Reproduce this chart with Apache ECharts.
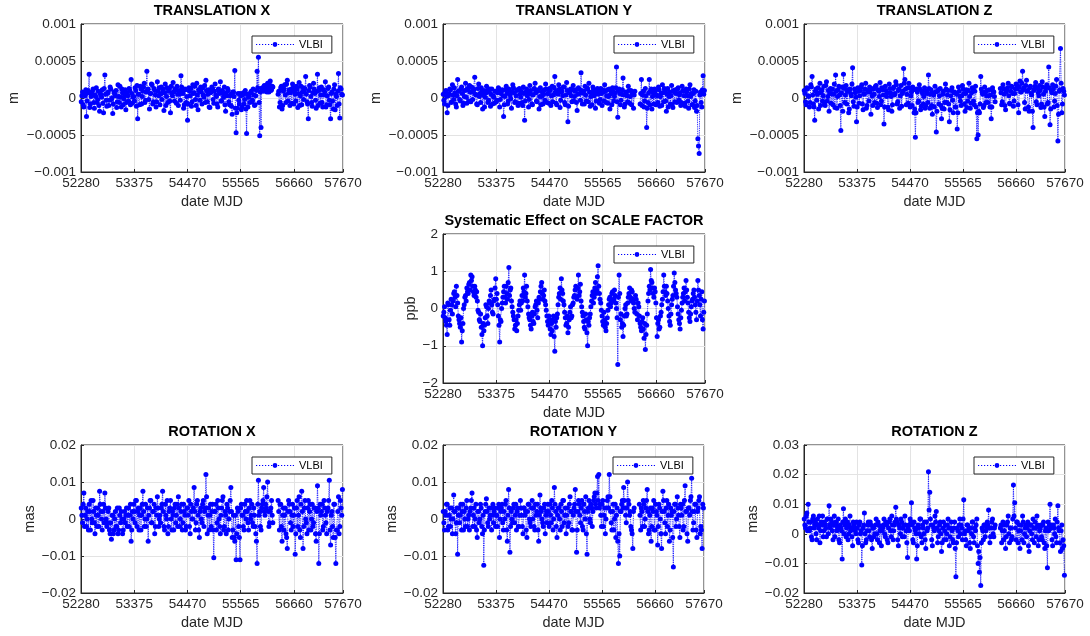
<!DOCTYPE html>
<html><head><meta charset="utf-8">
<script src="https://cdn.jsdelivr.net/npm/echarts@6/dist/echarts.min.js"></script>
<style>html,body{margin:0;padding:0;background:#fff}#c{width:1090px;height:636px}</style>
</head><body><div id="c"></div>
<script>
// Session dates (MJD): two interleaved session sets (A and B)
const MJD_START_A = 52285, MJD_START_B = 52298, MJD_STEP = 27;
const X_TICKS = [52280, 53375, 54470, 55565, 56660, 57670];

// Translation X, units of 1e-5 m
const TX = [
-5, 8, -12, 3, -25, 10, 32, -8, 5, 12, -14, 2, -6, 9, -18, 4, 11, -20, 31, -3,
6, -10, 15, -2, -21, 8, 3, -13, 18, -6, 1, 12, -9, 4, -16, 7, -4, 10, 25, -7,
2, 14, -11, -28, 5, 16, -8, 9, 20, -3, 36, 12, -15, 6, 18, -5, 10, -12, 22, 3,
-9, 15, 8, -17, 19, 2, -6, 13, -20, 7, 21, -4, 11, 16, -10, 5, 30, 9, -14, 12,
-6, -30, 14, 3, -11, 18, 7, -2, 20, -16, 9, 15, -8, 4, 17, 24, -5, 11, -13, 8,
13, -7, 19, 2, -12, 9, 22, -4, 6, 15, -18, 3, 10, -9, 5, -22, 8, 37, -47, -14,
-3, 6, -16, 4, -8, 10, -48, -12, 2, 7, -5, 12, -10, 3, 36, 55, -51, -40, 14, 9,
16, 10, 20, 8, 23, 11, 15, null, null, null, 5, -12, 14, -15, 9, 18, -6, 24, 7, -10,
12, 19, -8, 5, 16, -13, 21, 3, -9, 14, 8, 29, -5, -28, 17, 2, -11, 20, 6, -14,
32, 10, -7, 15, -12, 4, 22, -9, 13, -3, -28, 8, -15, 18, 5, -10, 33, -27, 12, 4];
const TX_B = [
3, -9, 6, 11, -4, 7, -13, 2, 9, -6, 4, 14, -2, -10, 6, 1, -7, 13, 5, -11,
8, -3, 12, 0, -8, 5, 10, -5, 2, 16, -12, 7, -1, 11, -6, 3, 13, -9, 6, 1,
-4, 10, 17, 5, -9, 12, 2, 15, -6, 8, 11, -2, 6, 19, -8, 13, 4, -5, 9, 14,
5, -2, 12, 7, -10, 14, 9, -4, 16, 3, 8, 12, -7, 5, 10, -3, 15, 6, -9, 11,
2, -8, 9, 13, -5, 6, 16, -10, 4, 11, -3, 8, 14, 1, -6, 10, 5, -12, 7, 15,
-2, 9, 4, -8, 12, 6, -4, 10, 1, -9, 7, 13, -5, 3, -11, 8, 2, -14, -20, 6,
-8, 3, -12, 7, -2, -15, 5, 1, -6, 9, -3, 4, -9, 10, 14, -6, 8, 13, 11, 17,
12, 8, 14, 18, 10, 16, null, null, null, null, 9, -6, 16, -10, 12, 4, 19, -4, 11, 7,
-7, 14, 9, -4, 12, 6, -10, 16, 8, -2, 13, 5, -8, 10, 15, -6, 7, 12, -3, 9,
-10, 14, 4, -6, 11, 8, -12, 3, 15, -9, 6, -4, 12, -16, 2, 9, -8, 14, 5];

// Translation Y, units of 1e-5 m
const TY = [
5, -8, 10, -20, 3, 12, -6, 18, -2, 7, -12, 25, 9, -4, 15, -10, 2, 20, -7, 11,
17, -5, 8, 13, 28, 4, -9, 19, 6, 14, -15, 10, 1, 16, -6, 8, -11, 12, 3, -7,
9, -3, 14, -12, 6, 11, -25, 2, 16, -8, 12, 4, -14, 18, 7, -5, 10, -10, 13, 1,
-6, 15, -30, 8, 3, -12, 17, 5, -9, 12, 20, -4, 9, -15, 14, 2, -8, 11, 19, -6,
6, 13, -10, 16, 4, 29, -7, 10, 18, -13, 8, 3, 15, -9, 21, -32, 7, 12, -5, 17,
2, 11, -17, 14, 6, 34, -8, 9, 16, -4, 12, 20, -11, 7, 15, 3, -14, 10, 5, -7,
13, -10, 8, 18, -6, 11, 2, -15, 9, 14, -4, 7, 42, -26, 12, -9, 5, 27, -12, 8,
3, 16, -7, 10, 5, -14, 9, null, null, null, -8, 25, 4, -12, 13, -40, -6, 25, 10, -15,
7, 12, -9, 3, 15, -11, 6, 18, -5, 9, -18, 13, 2, -8, 17, -13, 8, 11, -6, 14,
4, -10, 16, 9, -7, 12, 3, -14, 18, 6, -9, 11, -4, -18, -55, -75, 8, -12, 30, 10];
const TY_B = [
-3, 8, 2, -10, 6, 11, -5, 4, 14, -8, 3, 9, -2, 12, 6, -7, 10, 1, 13, -4,
8, 15, -2, 11, 5, -8, 13, 2, -6, 9, 4, -12, 7, 10, -3, 12, 5, -8, 1, 9,
-5, 7, 12, -2, 9, 3, -9, 11, 6, -4, 10, -1, 8, 14, -6, 3, 11, -7, 5, 9,
-10, 6, -4, 12, 8, -2, 10, -8, 4, 13, 7, -5, 11, 2, -9, 8, 5, -3, 12, 6,
-7, 10, 3, -5, 14, 8, -9, 5, 12, -3, 9, 15, -6, 4, 10, -11, 7, 3, 11, -4,
9, -6, 5, 12, -3, 10, 7, -8, 4, 14, -5, 8, 2, -9, 11, 6, -4, 13, 8, -2,
6, 11, -4, 9, 3, -7, 12, 5, -9, 8, 2, 14, -5, 10, 6, -3, 11, 4, -8, 7,
-5, 10, 2, -9, 8, 4, null, null, null, null, 6, -10, 9, -4, 3, -14, 7, -9, 12, 2,
-8, 9, 4, -6, 11, 2, -10, 7, 13, -4, 5, -12, 8, 3, -9, 10, -5, 6, 12, -3,
7, -6, 10, 3, -11, 8, -4, 12, 2, -9, 6, -13, 9, -10, -65, 4, -6, 11, 5];

// Translation Z, units of 1e-5 m
const TZ = [
10, -5, 14, 3, -12, 18, 29, -8, -30, 12, 5, -15, 20, 8, -4, 16, -10, 22, 2, -18,
13, 6, -9, 19, 31, -14, 11, 4, -44, 15, 32, -6, 17, 9, -20, 12, 3, 41, -11, 7,
-32, 14, -7, 10, 18, -16, 5, 20, -10, 8, 15, -22, 3, 12, -6, 17, -13, 9, 21, -4,
11, -35, 16, 2, -12, 19, 7, -18, 13, 4, 22, -8, 10, -14, 17, 6, 40, 25, -9, 14,
20, -12, 8, 15, -20, -53, 12, -6, 18, -16, 9, -8, 14, -10, 6, 31, -14, 11, -22, 4,
16, -46, 9, -8, 13, -28, 5, -15, 19, -6, 10, -32, 3, 14, -20, 8, -12, -42, 15, 2,
-10, 17, 6, -18, 11, -4, 20, -14, 7, 12, -9, 16, -55, -50, -20, 29, 8, -13, 15, -6,
10, 3, -12, -28, 14, 8, -5, null, null, null, 13, -9, 18, 5, -16, 11, 20, -7, 9, 15,
-11, 6, 19, 12, -20, 23, 8, 36, 14, -15, 24, 10, -18, 16, 4, -40, 12, 21, -9, 7,
17, -13, 22, 5, -25, 14, -8, 42, -36, 10, 18, -12, 6, 25, -58, 9, 67, -20, 13, 4];
const TZ_B = [
6, -9, 12, 2, -6, 15, 4, -12, 9, -3, 14, 7, -10, 11, 3, -8, 17, -4, 10, 6,
-7, 12, 5, -13, 9, 2, 16, -10, 7, -18, 13, 4, -8, 11, -15, 6, 19, -5, 12, 1,
-12, 9, 3, 15, -8, 6, 12, -14, 10, -4, 8, 13, -10, 5, 16, -7, 11, 2, -9, 14,
4, -12, 10, 7, -16, 13, 2, -9, 15, 6, 18, -5, 12, 3, -11, 9, 20, 12, 5, -7,
14, 3, -10, 11, -15, -20, 8, -4, 12, -11, 6, 2, -14, 9, -6, 13, 5, -10, 7, -12,
8, -18, 11, 3, -10, -14, 9, -6, 12, 4, -8, -16, 10, -3, 7, -12, 5, -20, 9, -4,
3, 12, -8, 6, -13, 10, 2, -7, 14, -4, 9, -12, -20, -18, -8, 12, 5, -10, 8, 3,
-6, 11, 4, -12, 9, 2, null, null, null, null, 7, -5, 12, -10, 8, 14, 3, -8, 16, 6,
-4, 12, 18, -9, 15, 8, 20, 11, -6, 17, 9, -12, 14, 6, -18, 10, 16, -5, 13, 3,
10, -8, 15, -12, 9, 18, -6, 14, -15, 7, 12, -4, 16, -10, -22, 11, 20, -8, 9];

// Scale factor, units of 0.01 ppb
const SC = [
-20, 5, -35, -70, 10, -45, 25, -15, 40, 30, 60, 15, -30, -50, -90, -40, 10, 35, 55, 40,
70, 90, 85, 45, 60, 30, 20, -10, -35, -50, -100, -60, -25, 5, -40, 20, 35, 10, -15, 25,
80, 40, -20, -90, -35, 15, 45, 30, 60, 25, 110, 50, 20, -10, -30, -45, -60, -20, 10, -5,
35, 55, 90, 40, 20, -15, -30, -55, -10, -40, 5, 20, -25, 30, 45, 70, 25, 50, 10, -20,
-45, -30, -70, -60, -20, -115, -50, -15, 30, 55, 80, 40, 10, -25, -40, -65, -30, 5, -20, 15,
35, 60, 25, 90, 45, 20, -10, -35, -55, -30, -100, -45, -15, 20, 45, 30, 70, 50, 115, 40,
15, -20, -45, -30, -60, -25, 10, 30, 15, 45, 25, 35, 0, -150, 90, -30, -50, -75, -20, 10,
-15, 30, 55, 20, 45, 15, -10, 25, -30, 5, -40, -60, -25, -80, -110, -45, 20, 60, 105, 70,
40, 55, 15, -75, -30, -50, -10, 25, 90, 45, 60, 20, -20, -45, 10, 35, 95, 50, 30, -15,
-40, -25, 15, 40, 20, 75, 30, -10, -35, 5, 25, 50, 10, -30, 75, 35, -20, 45, -55, 20];
const SC_B = [
-10, -25, -45, 15, -30, -5, 10, 20, 45, 5, 35, -20, -40, -25, -60, 0, 30, 20, 45, 65,
50, 75, 60, 35, 50, 45, -5, -30, -15, -70, -40, -45, 10, -20, 0, 15, 50, -10, 20, 55,
25, 10, -45, -30, 0, 30, 60, 15, 40, 70, 35, 55, 5, -20, -55, -30, -40, -5, 20, 15,
20, 45, 30, 60, 5, -25, -45, -20, -35, -15, 10, -5, 15, 25, 60, 40, 35, 20, -5, -35,
-20, -55, -40, -30, -75, -35, -25, 10, 40, 25, 50, 20, -10, -45, -20, -50, -10, -25, 10, 30,
50, 30, 55, 35, 65, 5, -20, -50, -15, -65, -35, -25, 5, 35, 15, 55, 40, 85, 60, 25,
-5, -35, -10, -50, -40, -5, 25, 5, 40, 20, 50, 15, -25, 30, 40, -15, -40, -45, 0, -20,
15, 40, 30, 50, 25, 0, 35, -15, 15, -20, -50, -35, -55, -40, -70, -15, 40, 50, 75, 55,
30, 45, -25, -40, -55, -20, 10, 45, 60, 35, 40, 0, -35, -15, 25, 60, 70, 40, 5, -30,
-55, -5, 30, 55, 45, 50, 15, -25, -15, 20, 40, 30, -10, 20, 50, 10, 25, -30, -10];

// Rotation X, units of 0.001 mas
const RX = [
3, -1, 7, 1, -2, 2, 4, -3, 0, 5, -1, 3, -2, 1, 7.5, 2, -3, 4, 7, 0,
-1, 3, -4, -5.5, 1, -3, 2, -2, -4, 3, -1, 0, -3, 2, 1, -2, 3, 1, -6, 2,
4, -1, 5, 2, -3, 3, 1, 7.5, -2, 4, 0, -6, 3, 5, -1, 2, -4, 3, 6, -2,
1, 3, 7.5, -2, 4, 0, -4, 2, 5, -3, 1, 3, -1, 4, 6, -2, 2, -3, 4, 1,
-2, 3, 5, -4, 2, 0, 8.5, -3, 4, 1, -5, 3, -1, 5, 2, 12, -4, 3, 1, -2,
4, -10.5, 2, -3, 5, 0, -4, 3, 6, -2, 1, 4, -3, 2, 8.5, -5, 1, -6, -11, 3,
-2, -11, 4, 1, -3, 2, 5, -1, 3, 0, 4, -2, 1, -4, -12, 10.5, 2, -3, 4, 8.5,
1, 3, 10, -2, 2, 5, -1, null, null, null, 5, -3, 4, -6, 3, 1, -4, -8, 5, 2,
-3, 4, 1, -9.5, 3, -2, 6, -5, 7.5, -8, 3, 0, -4, 5, 2, -3, 4, -1, 3, -6,
9, -12, 4, 2, -3, 5, 1, -4, 3, 10.5, -7, 2, -5, 4, -12, -3, 6, -2, 3, 8];
const RX_B = [
1, 4, -2, 3, 0, -3, 2, 5, -1, 2, -4, 1, 3, -2, 4, 0, 2, -1, 3, -2,
2, -3, -1, 1, -4, 0, -2, 3, -3, 1, 2, -4, 0, -1, 3, 1, -2, 4, -3, 0,
2, 5, -2, 3, 1, -3, 4, 2, 0, -2, 3, 1, 5, -1, 2, 4, -2, 1, 3, 0,
-1, 4, 2, -3, 1, 5, -2, 3, 0, 2, -3, 4, 1, -2, 3, 0, 4, -1, 2, -3,
3, 1, -2, 4, 0, 3, 2, -1, 5, -3, 2, 0, 4, -2, 3, 6, 1, -3, 4, 2,
-3, 2, 4, -1, 3, -2, 1, 5, -3, 2, -4, 3, 0, 5, 2, -3, -5, 1, -4, 2,
-5, 3, 1, -2, 4, 0, 2, -3, 5, 1, -1, 3, -2, -6, 4, 1, -2, 3, 5, 2,
4, 6, 2, -1, 3, 1, null, null, null, null, 2, 4, -2, 1, -3, 3, -5, 2, 4, -1,
1, -2, 3, -4, 5, 1, -3, 4, 2, -2, 5, -1, 3, -3, 4, 0, -2, 3, -4, 2,
3, -4, 1, 4, -2, 3, -1, 2, 5, -3, 1, -2, 4, -5, -3, 2, -4, 5, 1];

// Rotation Y, units of 0.001 mas
const RY = [
2, -3, 1, 4, -2, 3, 0, -4, 6.5, 2, -1, -9.5, 3, 1, -3, 4, 2, -2, 5, 0,
-3, 3, 7, 1, -2, 4, -5, 2, 0, 3, -4, -12.5, 2, 5.5, -1, 3, 1, -3, 4, 2,
-2, 1, 3, -5, 2, 4, -3, 0, 5, -6, 8, -9, 2, -1, 4, 1, -3, 3, -2, 5,
1, -4, 3, 2, -5, 4, 0, -2, 5, 3, -3, 1, 4, -6, 6.5, 2, -1, 3, -4, 2,
4, -2, 1, 5, -3, 8.5, 2, -5, 3, 0, 4, -2, 5, 1, -4, 3, -1, 6, 2, -3,
3, 8, -9, 2, 4, -1, 5, -3, 2, 6, -9.5, 3, 0, 4, -2, 5, 7, 3, 11.5, 12,
4, -2, 5, 1, -4, 3, 6, 12, 2, -3, 4, 0, -5, 3, -12, -10, 2, 5, 8.5, 3,
-1, 10, 4, 2, -3, -8, 3, null, null, null, 4, -3, 2, 5, -2, 3, 8, -4, 1, -6,
3, 5, -3, 2, -7, 4, 0, -8, 7.5, 2, -4, 5, 1, -6, 3, 2, -13, 4, -2, 6,
1, -5, 3, 4, -2, 9, 2, -6, 3, 5, 11, -3, 2, 4, -5, 3, 6, -2, -8, 3];
const RY_B = [
-1, 2, 4, -3, 1, -2, 3, 0, 2, -4, 3, 1, -1, 4, 2, -3, 0, 3, -2, 1,
2, 5, -2, 3, 0, -3, 2, -1, 4, -2, 1, -3, 4, 2, -2, 0, 3, 1, -1, 3,
1, -2, 4, 0, 3, -1, 2, 4, -3, 1, 3, -2, 0, 3, -1, 4, 2, -2, 1, 3,
-2, 3, 1, -3, 2, 4, -1, 3, 0, -2, 4, 2, -3, 1, 3, 0, -2, 4, 1, -1,
2, 4, -1, 3, 0, 4, -2, 1, 3, -3, 2, 5, -1, 3, 1, -2, 4, 2, -3, 1,
4, 2, -3, 5, 1, 3, -2, 4, 0, -4, 2, 5, -1, 3, 2, 6, 4, 7, 5, 3,
1, 4, -2, 3, 0, 5, 3, 6, -1, 2, -3, 4, 1, -6, -4, 2, 4, 3, 5, 1,
3, 5, 1, -2, -4, 2, null, null, null, null, 1, 3, -2, 4, 0, 5, 2, -3, 3, -2,
2, -3, 4, 1, -2, 3, -4, 2, 5, -1, 3, -2, 4, -3, 1, -5, 2, 4, 0, 3,
-2, 4, 1, -3, 5, 2, -4, 3, 1, 6, 2, -1, 4, -3, 2, 5, -4, -3, 4];

// Rotation Z, units of 0.001 mas
const RZ = [
5, 2, 7, 10, 1, 4, -2, 6, 3, 0, 5, 2, -3, 4, 6, 1, 3, -1, 5, 9.5,
2, 4, -2, 6, 3, 1, 5, -3, 2, -8.5, 8.5, 3, -1, 4, 0, 6, 2, -4, 3, 1,
4, -2, 3, 0, -10.5, 2, 7, -3, 1, 4, -1, 3, -5, 2, 0, 5, -2, 3, 1, -4,
2, 5, -1, 3, -3, 4, 1, 6, -2, 3, 9, 4, -4, 2, 5, -1, 3, 6, 1, -8,
3, 5, 10.5, -2, 4, 1, -8.5, 3, 0, 5, -3, 2, 4, -5, 1, 21, 14, 3, -4, 2,
6, 7.5, -3, 1, 4, -6, 2, -2, 3, 0, 5, -4, 2, 1, -3, 4, -14.5, 2, -1, 5,
3, -2, 11.5, 1, -4, 3, 2, -5, 0, 4, -3, 1, 5, -10, -13, -17.5, 2, -2, 3, 1,
4, 8, -3, 2, 5, -1, 3, null, null, null, 2, -3, 4, 1, -5, 3, 6, -3, 2, -1,
16.5, 10.5, -2, 4, 1, -5, 3, 6, -3, 2, -1, 4, -6, 3, 0, 5, -3, 2, 6, -4,
1, 3, -2, 4, -5, 2, -11.5, 1, 10, 3, -4, 2, 5, -3, 9.5, 1, -6, 3, -2, -14];
const RZ_B = [
3, 6, 1, 4, 2, -1, 5, 2, 4, -2, 3, 6, 1, 3, -1, 4, 2, 5, 0, 3,
5, 1, 3, -1, 4, 2, -2, 3, 1, 4, 0, 5, 2, -2, 3, 1, -1, 4, 2, 0,
2, -3, 4, 1, -4, 3, 0, -2, 3, 1, 4, -2, 2, -1, 3, 0, 4, -3, 2, 1,
3, 0, 4, -2, 2, 5, -1, 3, 1, 4, 5, -2, 3, 0, 4, 2, -1, 3, -3, 2,
1, 4, 3, -3, 2, 0, -4, 2, 5, -1, 3, 0, -2, 4, 2, 8, 5, -2, 3, 1,
4, 2, -1, 3, 0, -3, 4, 1, -2, 3, 2, -1, 4, -2, 2, -5, -3, 1, 3, 0,
2, 5, 0, -2, 3, 1, -3, 2, 4, -1, 2, 3, -4, -6, -8, -3, 1, 3, -1, 2,
3, 2, -1, 4, 0, 2, null, null, null, null, 3, 1, -2, 3, -1, 4, 0, 2, -2, 5,
6, 2, 4, -3, 3, 1, -2, 4, 0, 3, 2, -4, 1, 3, -2, 2, 4, -1, 3, -2,
2, -1, 3, -3, 1, -4, 4, 3, 2, -2, 3, 0, -1, 4, 2, -3, 1, -5, -4];

const PANELS = [
  {title:'TRANSLATION X', a:TX, b:TX_B, unit:1e-5, min:-0.001, max:0.001, step:0.0005, yname:'m',   gap:60, g:[81,24,262,148]},
  {title:'TRANSLATION Y', a:TY, b:TY_B, unit:1e-5, min:-0.001, max:0.001, step:0.0005, yname:'m',   gap:60, g:[443,24,262,148]},
  {title:'TRANSLATION Z', a:TZ, b:TZ_B, unit:1e-5, min:-0.001, max:0.001, step:0.0005, yname:'m',   gap:60, g:[804,24,261,148]},
  {title:'Systematic Effect on SCALE FACTOR', a:SC, b:SC_B, unit:0.01, min:-2, max:2, step:1, yname:'ppb', gap:25, g:[443,234,262,149]},
  {title:'ROTATION X', a:RX, b:RX_B, unit:0.001, min:-0.02, max:0.02, step:0.01, yname:'mas', gap:43, g:[81,445,262,148]},
  {title:'ROTATION Y', a:RY, b:RY_B, unit:0.001, min:-0.02, max:0.02, step:0.01, yname:'mas', gap:43, g:[443,445,261,148]},
  {title:'ROTATION Z', a:RZ, b:RZ_B, unit:0.001, min:-0.02, max:0.03, step:0.01, yname:'mas', gap:43, g:[804,445,261,148]}
];

const FONT = "'Liberation Sans', Arial, sans-serif";
const AX = '#262626', GRIDC = '#e3e3e3', BLUE = '#0000ff';
const fmt = v => String(+(+v).toFixed(6)).replace('-', '\u2212');

// Legend icon: dotted line with a dot marker in the middle (38 x 6 box)
const LEGEND_ICON = 'path://' +
  'M0 2.6h1.2v1.2h-1.2z M3 2.6h1.2v1.2h-1.2z M6 2.6h1.2v1.2h-1.2z M9 2.6h1.2v1.2h-1.2z M12 2.6h1.2v1.2h-1.2z M15 2.6h1.2v1.2h-1.2z ' +
  'M22 2.6h1.2v1.2h-1.2z M25 2.6h1.2v1.2h-1.2z M28 2.6h1.2v1.2h-1.2z M31 2.6h1.2v1.2h-1.2z M34 2.6h1.2v1.2h-1.2z M36.8 2.6h1.2v1.2h-1.2z ' +
  'M16.6 3.2a2.4 2.4 0 1 0 4.8 0a2.4 2.4 0 1 0 -4.8 0z M0 0.8h0.01v0.01h-0.01z M37.99 5.6h0.01v0.01h-0.01z';

function buildPoints(a, b, unit) {
  const out = [];
  const val = v => (v === null ? '-' : v * unit);
  for (let i = 0; i < a.length; i++) {
    out.push([MJD_START_A + MJD_STEP * i, val(a[i])]);
    if (i < b.length) out.push([MJD_START_B + MJD_STEP * i, val(b[i])]);
  }
  return out;
}

const option = {animation:false, backgroundColor:'#fff', title:[], grid:[], xAxis:[], yAxis:[], legend:[], series:[]};
PANELS.forEach((p, k) => {
  const [L, T, W, H] = p.g;
  option.grid.push({left:L, top:T, width:W, height:H, show:true, borderColor:AX, borderWidth:1, containLabel:false});
  option.title.push({text:p.title, left:L + W/2, top:T - 21, textAlign:'center', padding:0,
    textStyle:{fontFamily:FONT, fontWeight:'bold', fontSize:14.5, color:'#000'}});
  option.xAxis.push({type:'value', gridIndex:k, min:X_TICKS[0], max:X_TICKS[X_TICKS.length-1], interval:X_TICKS[1]-X_TICKS[0],
    name:'date MJD', nameLocation:'middle', nameGap:22, nameTextStyle:{fontFamily:FONT, fontSize:14.5, color:AX},
    axisLine:{show:true, onZero:false, lineStyle:{color:AX, width:1}}, axisTick:{show:true, inside:true, length:3, lineStyle:{color:AX}},
    axisLabel:{fontFamily:FONT, fontSize:13.5, color:AX, margin:4, showMaxLabel:true, showMinLabel:true, formatter:v => String(v)},
    splitLine:{show:true, lineStyle:{color:GRIDC, width:1}}});
  option.yAxis.push({type:'value', gridIndex:k, min:p.min, max:p.max, interval:p.step,
    name:p.yname, nameLocation:'middle', nameGap:p.gap, nameTextStyle:{fontFamily:FONT, fontSize:14.5, color:AX},
    axisLine:{show:true, onZero:false, lineStyle:{color:AX, width:1}}, axisTick:{show:true, inside:true, length:3, lineStyle:{color:AX}},
    axisLabel:{fontFamily:FONT, fontSize:13.5, color:AX, margin:5, formatter:fmt},
    splitLine:{show:true, lineStyle:{color:GRIDC, width:1}}});
  option.legend.push({data:[{name:'VLBI', icon:LEGEND_ICON}], left:L + W - 91, top:T + 12, orient:'horizontal', selectedMode:false,
    itemWidth:38, itemHeight:6, itemGap:0, padding:[3, 9, 3, 4], borderColor:AX, borderWidth:1, backgroundColor:'#fff',
    itemStyle:{color:BLUE, borderWidth:0}, textStyle:{fontFamily:FONT, fontSize:11, color:'#000'}, z:10});
  option.series.push({name:'VLBI', type:'line', xAxisIndex:k, yAxisIndex:k,
    data:buildPoints(p.a, p.b, p.unit),
    symbol:'circle', symbolSize:5, showSymbol:true, showAllSymbol:true, connectNulls:false,
    lineStyle:{type:'dotted', width:0.9, color:BLUE}, itemStyle:{color:BLUE, borderWidth:0}, z:3});
});

const chart = echarts.init(document.getElementById('c'), null, {renderer:'canvas'});
chart.setOption(option);
</script>
</body></html>
